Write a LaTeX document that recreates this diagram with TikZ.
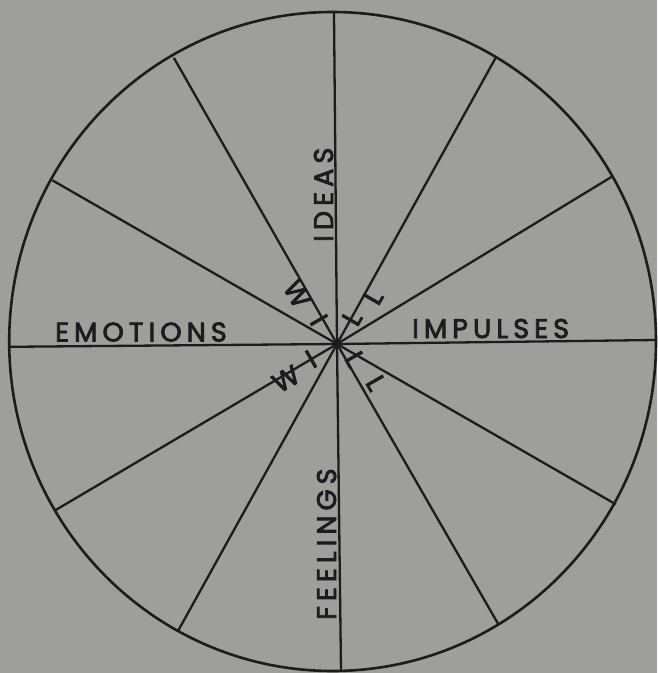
\documentclass[tikz,border=0pt]{standalone}
\usepackage{fontspec}
\newfontfamily\labelfont{Poppins}[LetterSpace=19,FakeBold=3]
\newfontfamily\willfont{Poppins}[FakeBold=3]
\definecolor{paper}{RGB}{158,158,154}
\definecolor{ink}{RGB}{28,28,30}
\begin{document}
\begin{tikzpicture}[x=1pt,y=-1pt,
  spoke/.style={line width=2.3pt, draw=ink},
  ring/.style={line width=2.6pt, draw=ink},
  lbl/.style={inner sep=0pt, text=ink, font=\labelfont\fontsize{27}{27}\selectfont},
  wl/.style={inner sep=0pt, text=ink, font=\willfont\fontsize{27}{27}\selectfont}]
\fill[paper] (0,0) rectangle (657,673);
\useasboundingbox (0,0) rectangle (657,673);
\coordinate (hub) at (337,344);
\coordinate (e0) at (656,340);
\coordinate (e1) at (611.7,176.8);
\coordinate (e2) at (495.6,57.9);
\coordinate (e3) at (334,12.5);
\coordinate (e4) at (173.9,57.9);
\coordinate (e5) at (52.4,180.3);
\coordinate (e6) at (9.5,346.8);
\coordinate (e7) at (54.5,510.7);
\coordinate (e8) at (178,631);
\coordinate (e9) at (341,671);
\coordinate (e10) at (498.5,624.5);
\coordinate (e11) at (615.8,504.3);
\draw[ring] (332.6,341.5) ellipse [x radius=323.4pt, y radius=329.5pt];
\foreach \i in {0,...,11} { \draw[spoke] (hub) -- (e\i); }
\fill[ink] (hub) circle (2.6pt);
\node[lbl, anchor=base west] (emo) at (55,341.5) {EMOTIONS};
\node[lbl, anchor=base west] (imp) at (412,338) {IMPULSES};
\node[lbl, anchor=base west, rotate=90] (ide) at (333,242) {IDEAS};
\node[lbl, anchor=base west, rotate=90] (fee) at (336,620) {FEELINGS};
\node[wl, rotate=-60] (w1) at (297,294) {W};
\node[wl, rotate=-60] (i1) at (319,320) {I};
\node[wl, rotate=60] (l1) at (352,318) {L};
\node[wl, rotate=60] (l2) at (373,297) {L};
\node[wl, rotate=30] (w2) at (286,379) {W};
\node[wl, rotate=30] (i2) at (311,359) {I};
\node[wl, rotate=-60] (l3) at (355,359) {L};
\node[wl, rotate=-60] (l4) at (376,383) {L};
\end{tikzpicture}
\end{document}
